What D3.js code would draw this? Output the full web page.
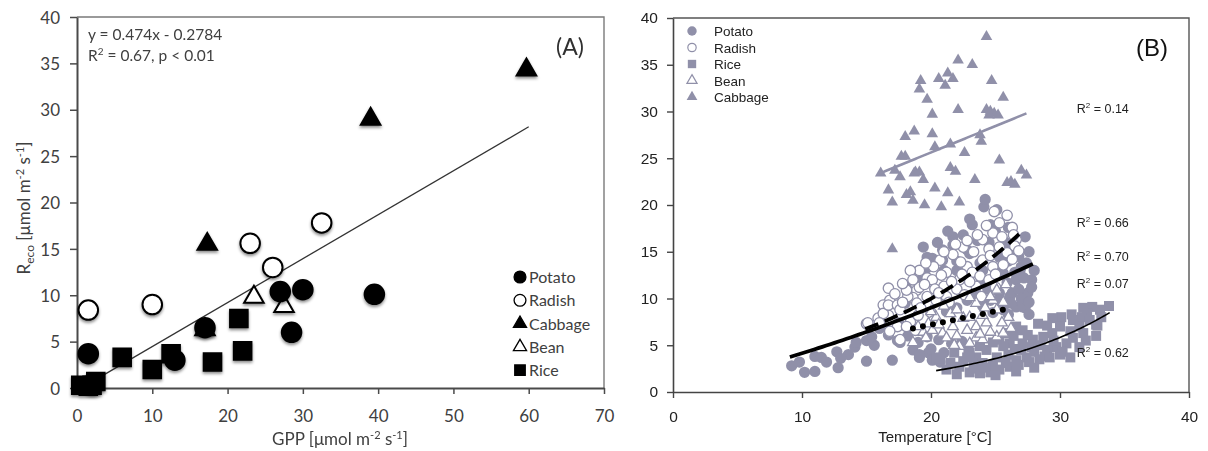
<!DOCTYPE html>
<html>
<head>
<meta charset="utf-8">
<script src="https://cdn.jsdelivr.net/npm/d3@7"></script>
<style>
  body { margin: 0; background: #fff; }
  svg { display: block; }
</style>
</head>
<body>
<svg id="chart" width="1208" height="451"></svg>
<script>
// ---------------- Panel A: Reco vs GPP (per-crop means) ----------------
const cropsA = ["Potato", "Radish", "Cabbage", "Bean", "Rice"];
const potatoA  = [[1.5, 3.7], [13, 3.0], [17, 6.5], [27, 10.4], [30, 10.6], [28.5, 6.0], [39.5, 10.1], [2, 0.4]];
const radishA  = [[1.5, 8.4], [10, 9.0], [23, 15.6], [26, 13.0], [32.5, 17.8]];
const cabbageA = [[17.3, 15.5], [39, 29.0], [59.7, 34.3]];
const beanA    = [[17, 6.3], [23.5, 9.8], [27.5, 8.8]];
const riceA    = [[0.5, 0.3], [1.5, 0.2], [2.5, 0.7], [2, 0.3], [6, 3.3], [10, 2.0], [12.5, 3.7], [18, 2.8], [21.5, 7.5], [22, 4.0]];
const fitA = { slope: 0.474, intercept: -0.2784, from: 1, to: 60 };
const xTicksA = [0, 10, 20, 30, 40, 50, 60, 70];
const yTicksA = [0, 5, 10, 15, 20, 25, 30, 35, 40];

// ---------------- Panel B: Reco vs temperature (half-hourly) ----------------
const cropsB = ["Potato", "Radish", "Rice", "Bean", "Cabbage"];
const potatoB = [
  [9.2, 2.8], [9.8, 3.2], [10.2, 2.1], [11.0, 2.2], [11.0, 3.8], [11.5, 3.7], [11.9, 3.2], [12.8, 2.6],
  [12.7, 4.3], [13.6, 4.0], [14.1, 4.8], [15.0, 3.3], [15.0, 5.5], [15.6, 5.0], [15.4, 5.9], [17.0, 3.4],
  [16.7, 6.1], [17.4, 5.5], [17.6, 5.3], [19.0, 5.3], [19.1, 3.7], [19.8, 4.2], [20.1, 3.4], [20.7, 3.2],
  [19.7, 5.9], [18.6, 4.5], [19.1, 4.0],
  [25.1, 19.5], [23.2, 17.9], [20.9, 15.2], [20.1, 14.3], [19.7, 13.3], [27.3, 16.6], [26.9, 13.0],
  [27.8, 12.0], [27.5, 10.6], [26.6, 9.1], [27.3, 9.0], [27.0, 13.4], [27.4, 13.8], [26.3, 15.2],
  [25.3, 12.7], [25.9, 11.7], [25.3, 10.6], [26.1, 10.2], [24.6, 9.8], [23.9, 11.7], [19.7, 14.4],
  [20.9, 14.1], [21.7, 15.7], [22.8, 15.2], [19.1, 12.3], [18.1, 11.1], [18.0, 9.5], [25.3, 14.4],
  [25.6, 12.7], [26.6, 12.0], [26.3, 10.6], [27.1, 9.1], [25.3, 9.8], [18.9, 12.8], [24.1, 19.8],
  [24.6, 17.9], [24.2, 20.6], [21.7, 16.6], [23.0, 14.8], [22.0, 13.0], [24.0, 13.0],
  [26.0, 14.0], [26.8, 14.5], [27.6, 15.0], [26.5, 12.8], [27.2, 12.2], [27.8, 11.2], [26.8, 11.0],
  [27.0, 10.0], [26.2, 9.5], [25.6, 8.8], [24.8, 8.5], [26.0, 8.3], [27.6, 8.3], [24.4, 11.0],
  [23.5, 10.5], [22.8, 9.8], [22.0, 9.0], [21.2, 8.6], [21.6, 5.2], [20.6, 5.6], [22.4, 5.4],
  [20.0, 4.6], [21.0, 4.2], [18.2, 6.0], [17.5, 7.4], [19.4, 15.5], [20.5, 16.0], [21.3, 17.2],
  [22.5, 16.8], [23.6, 16.2], [24.5, 16.0], [25.0, 17.2], [26.0, 17.6], [23.0, 18.5], [22.0, 14.0],
  [21.0, 13.0], [23.8, 13.8], [25.8, 16.0], [27.6, 9.6], [24.0, 9.2], [28.0, 13.0], [16.0, 6.8],
  [14.2, 5.3], [13.0, 3.6]
];
const radishB = [
  [16.7, 11.1], [16.8, 9.8], [16.3, 9.3], [18.2, 10.7], [18.9, 10.9], [18.6, 10.1], [15.9, 7.9], [15.0, 7.3],
  [16.7, 8.2], [15.1, 7.4], [16.3, 8.4], [16.7, 9.3], [17.4, 9.3], [18.2, 10.2], [18.9, 9.5], [19.7, 10.2],
  [20.4, 9.8], [21.2, 10.2], [16.0, 7.4], [17.4, 7.0], [18.4, 7.5], [25.3, 18.1], [25.9, 18.9], [26.3, 17.6],
  [24.8, 17.0], [24.0, 16.3], [22.5, 15.5], [21.7, 14.7], [20.7, 14.1], [19.1, 13.0], [19.7, 12.2],
  [18.4, 13.0], [25.3, 15.5], [25.9, 14.9], [24.0, 14.1], [22.8, 13.4], [21.2, 12.8], [20.1, 12.0],
  [19.1, 11.2], [18.1, 10.9], [24.8, 13.4], [23.2, 12.8], [22.2, 12.0], [17.6, 8.8], [18.1, 7.0],
  [17.6, 5.6], [24.9, 19.3], [26.6, 16.3], [23.3, 15.0], [22.0, 11.0], [23.5, 11.3], [21.0, 11.3],
  [20.0, 8.5], [19.0, 8.2], [26.5, 15.6], [24.5, 15.3],
  [19.5, 11.5], [20.3, 11.0], [20.8, 12.5], [21.6, 11.8], [22.4, 12.6], [23.0, 11.8], [23.8, 12.4],
  [24.5, 12.0], [25.0, 12.6], [25.6, 13.6], [26.3, 14.2], [26.8, 15.1], [26.4, 16.8], [25.5, 16.6],
  [24.3, 17.8], [23.6, 16.8], [22.8, 16.2], [21.9, 15.8], [21.0, 15.0], [20.2, 13.4], [19.6, 13.8],
  [18.6, 12.0], [17.8, 11.6], [17.2, 10.5], [17.8, 9.6], [19.2, 9.0], [20.6, 10.6], [22.6, 10.4],
  [21.4, 9.6], [20.2, 7.6], [18.8, 6.6], [16.8, 6.5], [23.9, 10.2], [25.0, 11.2], [24.6, 14.6], [22.3, 13.9]
];
const riceB = [
  [33.8, 9.2], [33.1, 8.8], [32.5, 9.1], [32.1, 8.4], [31.7, 8.0], [32.8, 7.2], [30.9, 8.3], [30.1, 8.0],
  [29.4, 7.9], [28.3, 7.3], [31.8, 6.3], [31.0, 5.8], [30.5, 5.2], [29.7, 4.8], [29.0, 4.5], [28.0, 4.3],
  [27.4, 3.7], [26.6, 3.4], [26.1, 2.7], [25.3, 2.4], [24.6, 2.1], [23.8, 2.0], [23.0, 2.1], [22.2, 2.7],
  [21.5, 3.1], [20.7, 3.6], [26.6, 7.0], [27.1, 6.6], [25.9, 6.3], [25.3, 5.6], [26.1, 5.2], [27.1, 5.2],
  [27.9, 5.6], [28.7, 5.9], [29.4, 6.3], [30.0, 7.0], [24.3, 4.5], [23.5, 3.7], [25.1, 3.7], [24.0, 3.1],
  [22.8, 3.7], [31.5, 7.0], [32.3, 7.7], [32.9, 7.1], [31.0, 7.7], [20.4, 3.7], [28.5, 5.0], [29.5, 5.5],
  [30.2, 4.3], [27.0, 4.5], [26.0, 4.0], [24.8, 2.9], [23.3, 2.8], [28.8, 3.8], [32.0, 5.5], [30.8, 6.5],
  [22.5, 3.3], [23.5, 2.5], [24.2, 2.6], [25.8, 3.1], [26.8, 2.9], [27.6, 3.2], [28.4, 3.5], [29.2, 3.7],
  [30.0, 4.0], [27.8, 4.8], [26.5, 4.6], [25.6, 4.9], [24.8, 5.3], [23.8, 4.9], [22.9, 4.6], [21.8, 4.2],
  [21.2, 2.4], [22.0, 1.9], [25.0, 1.8], [26.6, 2.2], [28.0, 2.6], [30.8, 3.7], [31.5, 4.8], [32.8, 6.0],
  [33.2, 8.0], [29.0, 7.1], [27.5, 6.1], [26.4, 6.0], [23.0, 4.2], [31.8, 9.0]
];
const beanB = [
  [22.2, 4.9], [23.5, 5.8], [25.1, 5.9], [25.6, 6.3], [24.3, 7.4], [25.1, 8.8], [23.5, 9.5], [23.0, 10.1],
  [24.8, 9.8], [25.1, 10.9], [20.1, 6.6], [20.9, 6.3], [19.4, 6.4], [21.7, 7.0], [22.8, 6.6], [23.5, 7.0],
  [20.4, 8.0], [21.5, 8.4], [22.5, 7.9], [24.0, 8.2], [24.6, 6.4], [21.8, 5.0], [24.0, 5.6], [18.6, 5.3],
  [26.0, 8.0], [25.8, 11.5], [19.8, 7.3], [21.0, 9.2],
  [19.0, 7.0], [20.6, 7.2], [22.0, 8.8], [23.0, 8.0], [24.2, 9.0], [25.5, 7.4], [26.2, 6.8], [22.0, 6.0],
  [23.0, 5.2], [19.6, 5.8], [21.2, 5.8], [24.6, 10.2], [25.6, 9.6], [20.0, 8.6], [23.8, 6.2]
];
const cabbageB = [
  [24.3, 38.0], [22.1, 35.5], [23.2, 35.0], [19.2, 33.3], [19.1, 32.4], [20.6, 33.5], [21.3, 34.1],
  [21.7, 33.5], [21.1, 32.8], [24.7, 33.3], [19.7, 31.3], [25.6, 31.5], [20.1, 29.7], [22.1, 30.2],
  [24.3, 30.2], [24.6, 30.0], [24.9, 29.8], [25.2, 29.6], [24.5, 29.6], [23.8, 27.5], [23.9, 26.8],
  [18.7, 27.9], [18.0, 27.3], [20.1, 27.6], [20.3, 26.2], [21.5, 26.5], [22.6, 25.6], [25.3, 24.8],
  [18.0, 25.2], [18.8, 23.5], [19.4, 22.7], [21.9, 23.6], [23.4, 22.7], [25.9, 22.4], [26.5, 22.2],
  [27.0, 23.7], [27.4, 23.2], [18.4, 21.4], [20.3, 21.8], [21.3, 21.3], [17.7, 25.2], [16.1, 23.4],
  [17.2, 23.7], [17.6, 23.0], [18.7, 23.4], [19.1, 23.5], [16.7, 21.6], [18.1, 21.1], [17.0, 20.3],
  [18.6, 20.5], [17.0, 15.3], [19.5, 20.0], [20.8, 19.8], [22.2, 20.3], [26.2, 22.5], [21.5, 24.0]
];
// fitted response curves: linear y=a+bx, exponential y=a*exp(bx), quadratic y=a+bx+cx^2
const fitCabbage = { kind: "linear", coef: [14.32, 0.565], from: 15.9, to: 27.4, r2: "0.14" };
const fitRadish  = { kind: "exp",    coef: [2.14, 0.077],  from: 14.9, to: 27.0, r2: "0.66" };
const fitPotato  = { kind: "poly",   coef: [0.47, 0.307, 0.006], from: 9.06, to: 27.9, r2: "0.70" };
const fitBean    = { kind: "linear", coef: [1.486, 0.2857], from: 18.6, to: 25.6, r2: "0.07" };
const fitRice    = { kind: "exp",    coef: [0.313, 0.0975], from: 20.4, to: 33.85, r2: "0.62" };
const xTicksB = [0, 10, 20, 30, 40];
const yTicksB = [0, 5, 10, 15, 20, 25, 30, 35, 40];

// ---------------- drawing ----------------
const svg = d3.select("#chart");
const defs = svg.append("defs");
const shadow = defs.append("filter").attr("id", "soft").attr("x", "-50%").attr("y", "-50%").attr("width", "200%").attr("height", "200%");
shadow.append("feDropShadow").attr("dx", 0).attr("dy", 2).attr("stdDeviation", 1.6)
  .attr("flood-color", "#000").attr("flood-opacity", 0.45);

const sym = (type, size) => d3.symbol().type(type).size(size)();

// ======== Panel A ========
const A = { left: 77, right: 604, top: 17, bottom: 388 };
const fontA = "Lato, 'Open Sans', sans-serif";
const xA = d3.scaleLinear().domain([0, 70]).range([A.left, A.right]);
const yA = d3.scaleLinear().domain([0, 40]).range([A.bottom, A.top]);
const gA = svg.append("g");

// frame
gA.append("path")
  .attr("d", `M${A.left},${A.top}H${A.right}V${A.bottom}`)
  .attr("fill", "none").attr("stroke", "#7a7a7a").attr("stroke-width", 1.4);

const axA_y = gA.append("g").attr("transform", `translate(${A.left},0)`)
  .call(d3.axisLeft(yA).tickValues(yTicksA).tickSize(7).tickSizeOuter(0).tickPadding(10));
const axA_x = gA.append("g").attr("transform", `translate(0,${A.bottom})`)
  .call(d3.axisBottom(xA).tickValues(xTicksA).tickSize(6).tickSizeOuter(0).tickPadding(16));
[axA_y, axA_x].forEach(ax => {
  ax.select(".domain").attr("stroke", "#4a4a4a").attr("stroke-width", 2);
  ax.selectAll(".tick line").attr("stroke", "#4a4a4a").attr("stroke-width", 1.5);
  ax.selectAll(".tick text").attr("font-family", fontA).attr("font-size", 17).attr("fill", "#404040");
});
axA_y.selectAll(".tick text").attr("dy", "0.36em");

// regression line
gA.append("line")
  .attr("x1", xA(fitA.from)).attr("y1", yA(fitA.intercept + fitA.slope * fitA.from))
  .attr("x2", xA(fitA.to)).attr("y2", yA(fitA.intercept + fitA.slope * fitA.to))
  .attr("stroke", "#333").attr("stroke-width", 1.3);

const styleA = {
  Potato:  { data: potatoA,  shape: d3.symbolCircle,   size: 300, fill: "#000" },
  Radish:  { data: radishA,  shape: d3.symbolCircle,   size: 300, fill: "#fff" },
  Cabbage: { data: cabbageA, shape: d3.symbolTriangle, size: 165, fill: "#000" },
  Bean:    { data: beanA,    shape: d3.symbolTriangle, size: 165, fill: "#fff" },
  Rice:    { data: riceA,    shape: d3.symbolSquare,   size: 310, fill: "#000" }
};
["Rice", "Bean", "Potato", "Radish", "Cabbage"].forEach(name => {
  const s = styleA[name];
  gA.append("g").attr("filter", "url(#soft)")
    .selectAll("path").data(s.data).join("path")
    .attr("d", sym(s.shape, s.size))
    .attr("transform", d => `translate(${xA(d[0])},${yA(d[1])})`)
    .attr("fill", s.fill).attr("stroke", "#000").attr("stroke-width", 2);
});

// equation
const eq = gA.append("g").attr("font-family", fontA).attr("font-size", 15.5).attr("fill", "#404040");
eq.append("text").attr("x", 88).attr("y", 40).text(`y = ${fitA.slope}x - ${Math.abs(fitA.intercept)}`);
const eq2 = eq.append("text").attr("x", 88).attr("y", 61);
eq2.append("tspan").text("R");
eq2.append("tspan").attr("font-size", 10).attr("dy", -6).text("2");
eq2.append("tspan").attr("dy", 6).text(" = 0.67, p < 0.01");

gA.append("text").attr("x", 556).attr("y", 55).attr("font-family", fontA).attr("font-size", 23)
  .attr("fill", "#303030").text("(A)");

// legend
const legA = gA.append("g").attr("font-family", fontA).attr("font-size", 16).attr("fill", "#404040");
const legSizeA = { Potato: 110, Radish: 110, Cabbage: 75, Bean: 75, Rice: 110 };
cropsA.forEach((name, i) => {
  const s = styleA[name];
  const y = 277 + i * 23.3;
  legA.append("path").attr("d", sym(s.shape, legSizeA[name]))
    .attr("transform", `translate(520,${y})`)
    .attr("fill", s.fill).attr("stroke", "#000").attr("stroke-width", 1.3);
  legA.append("text").attr("x", 529).attr("y", y + 6).text(name);
});

// axis titles
const ytA = gA.append("text").attr("transform", "translate(30,208) rotate(-90)")
  .attr("text-anchor", "middle").attr("font-family", fontA).attr("font-size", 17).attr("fill", "#404040");
ytA.append("tspan").text("R");
ytA.append("tspan").attr("font-size", 12).attr("dy", 4).text("eco");
ytA.append("tspan").attr("dy", -4).text(" [μmol m");
ytA.append("tspan").attr("font-size", 11).attr("dy", -6).text("-2");
ytA.append("tspan").attr("dy", 6).text(" s");
ytA.append("tspan").attr("font-size", 11).attr("dy", -6).text("-1");
ytA.append("tspan").attr("dy", 6).text("]");

const xtA = gA.append("text").attr("x", 340).attr("y", 445)
  .attr("text-anchor", "middle").attr("font-family", fontA).attr("font-size", 17).attr("fill", "#404040");
xtA.append("tspan").text("GPP [μmol m");
xtA.append("tspan").attr("font-size", 11).attr("dy", -6).text("-2");
xtA.append("tspan").attr("dy", 6).text(" s");
xtA.append("tspan").attr("font-size", 11).attr("dy", -6).text("-1");
xtA.append("tspan").attr("dy", 6).text("]");

// ======== Panel B ========
const B = { left: 673, right: 1189, top: 18, bottom: 392 };
const fontB = "'Liberation Sans', Arial, sans-serif";
const markB = "#9090a9";
const xB = d3.scaleLinear().domain([0, 40]).range([B.left, B.right]);
const yB = d3.scaleLinear().domain([0, 40]).range([B.bottom, B.top]);
const gB = svg.append("g");

gB.append("path")
  .attr("d", `M${B.left},${B.top}H${B.right}V${B.bottom}`)
  .attr("fill", "none").attr("stroke", "#555").attr("stroke-width", 1.4);

const axB_y = gB.append("g").attr("transform", `translate(${B.left},0)`)
  .call(d3.axisLeft(yB).tickValues(yTicksB).tickSize(6).tickSizeOuter(0).tickPadding(9));
const axB_x = gB.append("g").attr("transform", `translate(0,${B.bottom})`)
  .call(d3.axisBottom(xB).tickValues(xTicksB).tickSize(6).tickSizeOuter(0).tickPadding(13));
[axB_y, axB_x].forEach(ax => {
  ax.select(".domain").attr("stroke", "#444").attr("stroke-width", 1.6);
  ax.selectAll(".tick line").attr("stroke", "#444").attr("stroke-width", 1.4);
  ax.selectAll(".tick text").attr("font-family", fontB).attr("font-size", 15.5).attr("fill", "#222");
});

const styleB = {
  Potato:  { data: potatoB,  shape: d3.symbolCircle,   size: 100, filled: true },
  Radish:  { data: radishB,  shape: d3.symbolCircle,   size: 85, filled: false },
  Rice:    { data: riceB,    shape: d3.symbolSquare,   size: 100, filled: true },
  Bean:    { data: beanB,    shape: d3.symbolTriangle, size: 50, filled: false },
  Cabbage: { data: cabbageB, shape: d3.symbolTriangle, size: 58, filled: true }
};
cropsB.forEach(name => {
  const s = styleB[name];
  gB.append("g").selectAll("path").data(s.data).join("path")
    .attr("d", sym(s.shape, s.size))
    .attr("transform", d => `translate(${xB(d[0])},${yB(d[1])})`)
    .attr("fill", s.filled ? markB : "#fff")
    .attr("stroke", s.filled ? "none" : markB).attr("stroke-width", 1.3);
});

// fitted curves
const evalFit = (f, x) => f.kind === "linear" ? f.coef[0] + f.coef[1] * x
  : f.kind === "exp" ? f.coef[0] * Math.exp(f.coef[1] * x)
  : f.coef[0] + f.coef[1] * x + f.coef[2] * x * x;
const curve = f => d3.line().x(x => xB(x)).y(x => yB(evalFit(f, x)))(d3.range(0, 61).map(i => f.from + (f.to - f.from) * i / 60));

const lineStyles = [
  { fit: fitCabbage, stroke: markB, width: 2.6, dash: null, cap: "butt" },
  { fit: fitRadish,  stroke: "#000", width: 3.8, dash: "14 7", cap: "butt" },
  { fit: fitPotato,  stroke: "#000", width: 3.8, dash: null, cap: "butt" },
  { fit: fitBean,    stroke: "#000", width: 6, dash: "0 10.2", cap: "round" },
  { fit: fitRice,    stroke: "#000", width: 1.6, dash: null, cap: "butt" }
];
lineStyles.forEach(ls => {
  gB.append("path").attr("d", curve(ls.fit)).attr("fill", "none")
    .attr("stroke", ls.stroke).attr("stroke-width", ls.width)
    .attr("stroke-dasharray", ls.dash).attr("stroke-linecap", ls.cap);
});

// R² labels beside each fitted curve
const r2Pos = [[fitCabbage, 29.8], [fitRadish, 17.6], [fitPotato, 14.0], [fitBean, 11.1], [fitRice, 3.75]];
r2Pos.forEach(([f, yv]) => {
  const t = gB.append("text").attr("x", xB(31.3)).attr("y", yB(yv))
    .attr("font-family", fontB).attr("font-size", 12.5).attr("fill", "#222");
  t.append("tspan").text("R");
  t.append("tspan").attr("font-size", 8).attr("dy", -5).text("2");
  t.append("tspan").attr("dy", 5).text(" = " + f.r2);
});

gB.append("text").attr("x", 1136).attr("y", 56).attr("font-family", fontB).attr("font-size", 24)
  .attr("fill", "#111").text("(B)");

// legend
const legB = gB.append("g").attr("font-family", fontB).attr("font-size", 13.5).attr("fill", "#222");
const legSizeB = { Potato: 70, Radish: 55, Rice: 70, Bean: 45, Cabbage: 50 };
cropsB.forEach((name, i) => {
  const s = styleB[name];
  const y = 31 + i * 16.5;
  legB.append("path").attr("d", sym(s.shape, legSizeB[name]))
    .attr("transform", `translate(692,${y})`)
    .attr("fill", s.filled ? markB : "#fff")
    .attr("stroke", s.filled ? "none" : markB).attr("stroke-width", 1.2);
  legB.append("text").attr("x", 714).attr("y", y + 5).text(name);
});

gB.append("text").attr("x", 935).attr("y", 442).attr("text-anchor", "middle")
  .attr("font-family", fontB).attr("font-size", 15).attr("fill", "#222").text("Temperature [°C]");
</script>
</body>
</html>
